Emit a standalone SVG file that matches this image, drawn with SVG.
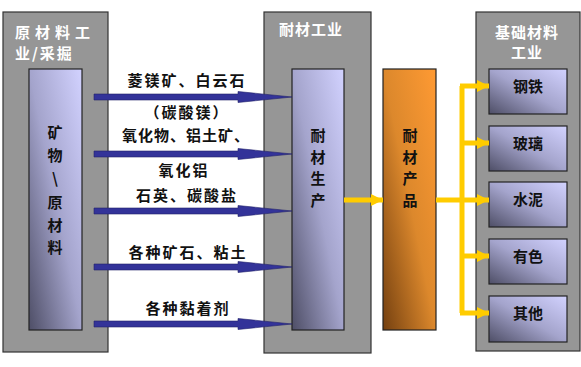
<svg xmlns="http://www.w3.org/2000/svg" width="581" height="367" viewBox="0 0 581 367">
<defs>
<linearGradient id="gb" x1="1" y1="0" x2="0" y2="1">
<stop offset="0" stop-color="#d2d2ff"/>
<stop offset="0.5" stop-color="#a4a4cc"/>
<stop offset="1" stop-color="#4e4e66"/>
</linearGradient>
<linearGradient id="go" x1="1" y1="0" x2="0" y2="1">
<stop offset="0" stop-color="#ff9a33"/>
<stop offset="0.5" stop-color="#dc882c"/>
<stop offset="1" stop-color="#744010"/>
</linearGradient>
<marker id="ya" viewBox="0 0 10 10" refX="10" refY="5" markerWidth="2.4" markerHeight="2.8" orient="auto" markerUnits="strokeWidth">
<path d="M0,0 L10,5 L0,10 Z" fill="#ffcc00"/>
</marker>
</defs>
<style>
.panel{fill:#969696;stroke:#333;stroke-width:1.2}
.inner{fill:url(#gb);stroke:#222;stroke-width:1.2}
.t{font-family:"Noto Sans CJK SC","Noto Sans CJK JP",sans-serif;font-weight:bold;font-size:15px;fill:#111;text-anchor:middle}
.w{fill:#fff}
.y{stroke:#ffcc00;stroke-width:5;fill:none}
.bl{fill:#333399;stroke:#22226a;stroke-width:0.6}
</style>

<g id="raw">
<rect class="panel" x="3" y="12" width="105" height="340"/>
<text class="t w" x="15" y="38" style="text-anchor:start" letter-spacing="5">原材料工</text>
<text class="t w" x="15" y="59" style="text-anchor:start" letter-spacing="2">业/采掘</text>
</g>
<g id="raw-inner">
<rect class="inner" x="29" y="69" width="53" height="261"/>
<text class="t" x="55" y="138">矿</text>
<text class="t" x="55" y="161">物</text>
<text class="t" x="55" y="184">\</text>
<text class="t" x="55" y="208">原</text>
<text class="t" x="55" y="231">材</text>
<text class="t" x="55" y="253">料</text>
</g>

<g id="refr">
<rect class="panel" x="264" y="12" width="107" height="341"/>
<text class="t w" x="311" y="35" letter-spacing="1">耐材工业</text>
</g>
<g id="refr-prod">
<rect class="inner" x="292" y="69" width="52" height="261"/>
<text class="t" x="318" y="141">耐</text>
<text class="t" x="318" y="163">材</text>
<text class="t" x="318" y="184">生</text>
<text class="t" x="318" y="206">产</text>
</g>

<g id="products">
<rect x="383" y="69" width="53" height="261" fill="url(#go)" stroke="#222" stroke-width="1.2"/>
<text class="t" x="410" y="141">耐</text>
<text class="t" x="410" y="163">材</text>
<text class="t" x="410" y="184">产</text>
<text class="t" x="410" y="206">品</text>
</g>

<g id="basic">
<rect class="panel" x="476" y="12" width="104" height="339"/>
<text class="t w" x="527" y="38" letter-spacing="1">基础材料</text>
<text class="t w" x="527" y="58" letter-spacing="1">工业</text>
</g>
<g id="steel"><rect class="inner" x="489" y="69" width="78" height="45"/><text class="t" x="528" y="92">钢铁</text></g>
<g id="glass"><rect class="inner" x="489" y="126" width="78" height="45"/><text class="t" x="528" y="149">玻璃</text></g>
<g id="cement"><rect class="inner" x="489" y="182" width="78" height="45"/><text class="t" x="528" y="205">水泥</text></g>
<g id="nonferrous"><rect class="inner" x="489" y="239" width="78" height="45"/><text class="t" x="528" y="262">有色</text></g>
<g id="other"><rect class="inner" x="489" y="296" width="78" height="46"/><text class="t" x="528" y="319">其他</text></g>

<g id="connectors">
<path class="bl" d="M94,94 L238,94 L238,91.5 L292,97 L238,102.5 L238,100 L94,100 Z"/>
<path class="bl" d="M94,151 L238,151 L238,148.5 L292,154 L238,159.5 L238,157 L94,157 Z"/>
<path class="bl" d="M94,208 L238,208 L238,205.5 L292,211 L238,216.5 L238,214 L94,214 Z"/>
<path class="bl" d="M94,264 L238,264 L238,261.5 L292,267 L238,272.5 L238,270 L94,270 Z"/>
<path class="bl" d="M94,321 L238,321 L238,318.5 L292,324 L238,329.5 L238,327 L94,327 Z"/>
<text class="t" x="187" y="86" letter-spacing="2">菱镁矿、白云石</text>
<text class="t" x="187" y="118" letter-spacing="2">（碳酸镁）</text>
<text class="t" x="186" y="141" letter-spacing="1">氧化物、铝土矿、</text>
<text class="t" x="184" y="176" letter-spacing="2">氧化铝</text>
<text class="t" x="187" y="201" letter-spacing="2">石英、碳酸盐</text>
<text class="t" x="188" y="258" letter-spacing="2">各种矿石、粘土</text>
<text class="t" x="188" y="314" letter-spacing="2">各种黏着剂</text>

<line class="y" x1="344" y1="200" x2="383" y2="200" marker-end="url(#ya)"/>
<line class="y" x1="436" y1="200" x2="462" y2="200"/>
<line class="y" x1="462" y1="86" x2="462" y2="313"/>
<line class="y" x1="460" y1="86" x2="489" y2="86" marker-end="url(#ya)"/>
<line class="y" x1="460" y1="143" x2="489" y2="143" marker-end="url(#ya)"/>
<line class="y" x1="460" y1="200" x2="489" y2="200" marker-end="url(#ya)"/>
<line class="y" x1="460" y1="256" x2="489" y2="256" marker-end="url(#ya)"/>
<line class="y" x1="460" y1="313" x2="489" y2="313" marker-end="url(#ya)"/>
</g>
</svg>
